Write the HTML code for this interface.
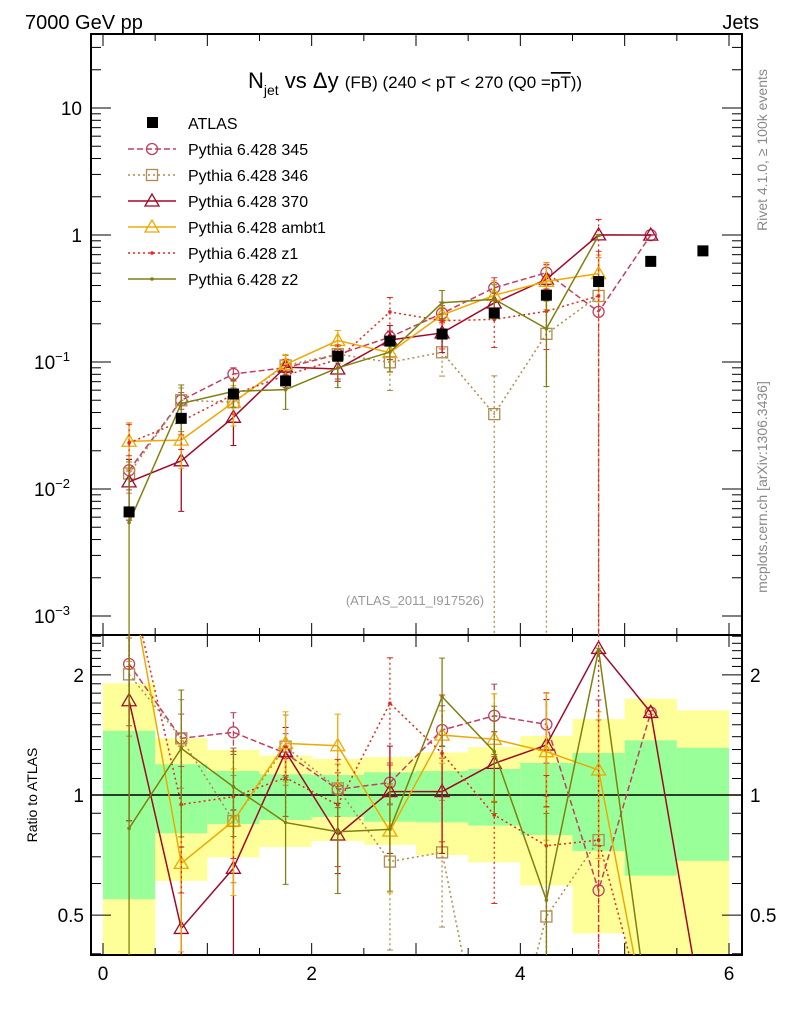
<!DOCTYPE html>
<html><head><meta charset="utf-8"><style>
html,body{margin:0;background:#fff;width:786px;height:1024px;overflow:hidden;}
svg{display:block;font-family:"Liberation Sans",sans-serif;}
</style></head><body>
<svg id="chart" width="786" height="1024" viewBox="0 0 786 1024" xmlns="http://www.w3.org/2000/svg">
<text x="25" y="29" font-size="20">7000 GeV pp</text>
<text x="759" y="29" font-size="20" text-anchor="end">Jets</text>
<text x="415" y="88" font-size="22" text-anchor="middle">N<tspan font-size="14" dy="7">jet</tspan><tspan dy="-7"> vs Δy </tspan><tspan font-size="17">(FB) (240 &lt; pT &lt; 270 (Q0 =<tspan text-decoration="overline">pT</tspan>))</tspan></text>
<text x="415" y="605" font-size="13" fill="#999" text-anchor="middle">(ATLAS_2011_I917526)</text>
<text transform="translate(767,150) rotate(-90)" font-size="14" fill="#888" text-anchor="middle">Rivet 4.1.0, ≥ 100k events</text>
<text transform="translate(767,487) rotate(-90)" font-size="14" fill="#888" text-anchor="middle">mcplots.cern.ch [arXiv:1306.3436]</text>
<text transform="translate(37,795) rotate(-90)" font-size="14" text-anchor="middle">Ratio to ATLAS</text>
<g id="bands"></g><g id="axes"></g><g id="series"></g><g id="legend"></g>
</svg>
<script>
const binCenters=[0.25,0.75,1.25,1.75,2.25,2.75,3.25,3.75,4.25,4.75,5.25,5.75];
const atlasValues=[0.0066,0.036,0.056,0.071,0.111,0.146,0.166,0.243,0.336,0.43,0.62,0.75];
const yellowHi=[1.905,1.387,1.297,1.255,1.231,1.245,1.279,1.319,1.406,1.55,1.742,1.63];
const greenHi=[1.449,1.194,1.148,1.127,1.122,1.14,1.148,1.162,1.203,1.274,1.371,1.314];
const greenLo=[0.548,0.802,0.846,0.866,0.881,0.857,0.854,0.838,0.794,0.724,0.628,0.684];
const yellowLo=[0.3,0.609,0.698,0.741,0.767,0.75,0.707,0.678,0.593,0.45,0.3,0.3];
const ratio345=[2.13,1.387,1.436,1.272,1.033,1.074,1.455,1.58,1.503,0.577,1.61,null];
const ratio346=[2.006,1.387,0.861,1.322,1.039,0.681,0.718,0.16,0.496,0.771,null,null];
const ratio370=[1.723,0.463,0.655,1.284,0.794,1.02,1.02,1.2,1.334,2.33,1.61,0.28];
const ratioAmbt1=[3.6,0.674,0.861,1.347,1.329,0.812,1.413,1.379,1.284,1.155,0.24,null];
const ratioZ1=[3.5,0.947,0.99,1.105,0.945,1.698,1.272,0.891,0.746,0.771,0.25,null];
const ratioZ2=[0.825,1.309,1.049,0.853,0.809,0.82,1.763,1.284,0.545,2.31,0.256,null];
const relErr345=[0.3,0.15,0.12,0.12,0.1,0.12,0.15,0.2,0.2,2,0.01,0];
const relErr346=[0.3,0.25,0.3,0.2,0.15,0.4,0.35,1,1,1,0,0];
const relErr370=[0.5,0.6,0.4,0.15,0.2,0.3,0.3,0.2,0.3,0,0,0];
const relErrAmbt1=[0.4,0.4,0.35,0.2,0.2,0.3,0.15,0.3,0.4,0.4,0,0];
const relErrZ1=[0.4,0.4,0.3,0.2,0.3,0.3,0.4,0.4,0.5,3,0,0];
const relErrZ2=[2,0.4,0.25,0.3,0.3,0.3,0.25,0.3,0.65,0.01,0,0];
const xTicks=[0,2,4,6];
const mainTickVals=[10,1,0.1,0.01,0.001];
const mainTickLabels=["10","1","10","10","10"];
const mainTickExp=["","","−1","−2","−3"];
const ratioTickVals=[2,1,0.5];
const ratioTickLabels=["2","1","0.5"];

const NS="http://www.w3.org/2000/svg";
const L=91,R=742,MT=34,MB=635,RB=955;
const X=v=>103+v*(729-103)/6;
const YM=v=>235-127*Math.log10(v);
const YR=v=>795-399*Math.log10(v);
function mk(tag,attrs,parent){const e=document.createElementNS(NS,tag);for(const k in attrs)e.setAttribute(k,attrs[k]);parent.appendChild(e);return e;}
const svg=document.getElementById('chart');
const gB=document.getElementById('bands'),gA=document.getElementById('axes'),gS=document.getElementById('series'),gL=document.getElementById('legend');
const defs=mk('defs',{},svg);
const c1=mk('clipPath',{id:'cm'},defs);mk('rect',{x:L,y:MT,width:R-L,height:MB-MT},c1);
const c2=mk('clipPath',{id:'cr'},defs);mk('rect',{x:L,y:MB,width:R-L,height:RB-MB},c2);
gB.setAttribute('clip-path','url(#cr)');
binCenters.forEach((c,i)=>{
 const x0=X(c-0.25),w=X(c+0.25)-x0;
 const y=mk('rect',{x:x0,y:YR(yellowHi[i]),width:w,height:YR(yellowLo[i])-YR(yellowHi[i]),fill:'#ffff99'},gB);
 
 
 const g=mk('rect',{x:x0,y:YR(greenHi[i]),width:w,height:YR(greenLo[i])-YR(greenHi[i]),fill:'#99ff99'},gB);
 
 
});
mk('line',{x1:L,x2:R,y1:YR(1),y2:YR(1),stroke:'#000','stroke-width':1.5},gB);
const f1=mk('rect',{x:L,y:MT,width:R-L,height:MB-MT,fill:'none',stroke:'#000','stroke-width':2},gA);


const f2=mk('rect',{x:L,y:MB,width:R-L,height:RB-MB,fill:'none',stroke:'#000','stroke-width':2},gA);


for(let k=0;k<=12;k++){const v=k*0.5,x=X(v),len=(k%2==0)?12:7;
 [MT,MB].forEach(y0=>mk('line',{x1:x,x2:x,y1:y0,y2:y0+len,stroke:'#000'},gA));
 mk('line',{x1:x,x2:x,y1:MB,y2:MB-len,stroke:'#000'},gA);
 mk('line',{x1:x,x2:x,y1:RB,y2:RB-len,stroke:'#000'},gA);}
xTicks.forEach(v=>{const t=mk('text',{x:X(v),y:980,'font-size':19,'text-anchor':'middle'},gA);t.textContent=v;
 
 });
for(let d=-3;d<=1;d++){for(let m=1;m<10;m++){const v=m*Math.pow(10,d),y=YM(v);if(y<MT||y>MB)continue;const len=m==1?20:10;
 mk('line',{x1:L,x2:L+len,y1:y,y2:y,stroke:'#000'},gA);mk('line',{x1:R,x2:R-len,y1:y,y2:y,stroke:'#000'},gA);}}
mainTickVals.forEach((v,i)=>{const t=mk('text',{x:mainTickExp[i]?70:82,y:YM(v)+7,'font-size':19,'text-anchor':'end'},gA);t.textContent=mainTickLabels[i];
 
 
 if(mainTickExp[i]){const s=mk('tspan',{'font-size':13,dy:-8},t);s.textContent=mainTickExp[i];}});
[0.4,0.5,0.6,0.7,0.8,0.9,1,1.1,1.2,1.3,1.4,1.5,1.6,1.7,1.8,1.9,2,2.1,2.2,2.3,2.4,2.5].forEach(v=>{const y=YR(v);if(y<MB||y>RB)return;const len=[0.5,1,2].includes(v)?20:10;
 mk('line',{x1:L,x2:L+len,y1:y,y2:y,stroke:'#000'},gA);mk('line',{x1:R,x2:R-len,y1:y,y2:y,stroke:'#000'},gA);});
ratioTickVals.forEach((v,i)=>{[[84,'end'],[750,'start']].forEach(p=>{const t=mk('text',{x:p[0],y:YR(v)+7,'font-size':19,'text-anchor':p[1]},gA);t.textContent=ratioTickLabels[i];
 
 });});
const series=[
 {name:'Pythia 6.428 345',r:ratio345,e:relErr345,c:'#c04060',dash:'6,3',m:'circle'},
 {name:'Pythia 6.428 346',r:ratio346,e:relErr346,c:'#b08a50',dash:'2,3',m:'square'},
 {name:'Pythia 6.428 370',r:ratio370,e:relErr370,c:'#a00828',dash:'',m:'tri'},
 {name:'Pythia 6.428 ambt1',r:ratioAmbt1,e:relErrAmbt1,c:'#f0a800',dash:'',m:'tri'},
 {name:'Pythia 6.428 z1',r:ratioZ1,e:relErrZ1,c:'#e8251a',dash:'2,3',m:'dot'},
 {name:'Pythia 6.428 z2',r:ratioZ2,e:relErrZ2,c:'#808010',dash:'',m:'dot'}];
function marker(g,m,x,y,c){
 if(m=='circle')mk('circle',{cx:x,cy:y,r:5.5,fill:'none',stroke:c,'stroke-width':1.3},g);
 else if(m=='square')mk('rect',{x:x-5.5,y:y-5.5,width:11,height:11,fill:'none',stroke:c,'stroke-width':1.3},g);
 else if(m=='tri')mk('polygon',{points:`${x},${y-7} ${x-7},${y+5} ${x+7},${y+5}`,fill:'none',stroke:c,'stroke-width':1.3},g);
 else mk('circle',{cx:x,cy:y,r:1.8,fill:c},g);}
const gm=mk('g',{'clip-path':'url(#cm)'},gS),gr=mk('g',{'clip-path':'url(#cr)'},gS);
series.forEach(s=>{
 [[gm,i=>s.r[i]*atlasValues[i],YM,true],[gr,i=>s.r[i],YR,false]].forEach(([par,val,Y,isMain])=>{
  const g=mk('g',{},par);
  
  
  const ok=i=>s.r[i]!=null&&!(isMain&&i>=10&&s.r[i]<0.3);
  let pts=[];
  binCenters.forEach((c,i)=>{if(!ok(i))return;const v=val(i);pts.push(X(c)+','+Y(v));
   const lo=Math.max(v*(1-s.e[i]),1e-6),hi=v*(1+s.e[i]);
   if(s.e[i]>0){mk('line',{x1:X(c),x2:X(c),y1:Y(hi),y2:Y(lo),stroke:s.c,'stroke-width':1.3,'stroke-dasharray':s.dash},g);
    mk('line',{x1:X(c)-3,x2:X(c)+3,y1:Y(hi),y2:Y(hi),stroke:s.c},g);mk('line',{x1:X(c)-3,x2:X(c)+3,y1:Y(lo),y2:Y(lo),stroke:s.c},g);}});
  mk('polyline',{points:pts.join(' '),fill:'none',stroke:s.c,'stroke-width':1.5,'stroke-dasharray':s.dash},g);
  binCenters.forEach((c,i)=>{if(!ok(i))return;marker(g,s.m,X(c),Y(val(i)),s.c);});
 });});
binCenters.forEach((c,i)=>{const p=mk('rect',{x:X(c)-5.5,y:YM(atlasValues[i])-5.5,width:11,height:11,fill:'#000'},gS);
 
 });
const lgA=mk('g',{},gL);


mk('rect',{x:147,y:117,width:11,height:11,fill:'#000'},lgA);
const ta=mk('text',{x:188,y:129,'font-size':16},lgA);ta.textContent='ATLAS';
series.forEach((s,k)=>{const y=149+26*k;const g=mk('g',{},gL);
 
 
 mk('line',{x1:128,x2:176,y1:y,y2:y,stroke:s.c,'stroke-width':1.5,'stroke-dasharray':s.dash},g);
 marker(g,s.m,152,y,s.c);
 const t=mk('text',{x:188,y:y+6,'font-size':16},g);t.textContent=s.name;});
</script>
</body></html>
